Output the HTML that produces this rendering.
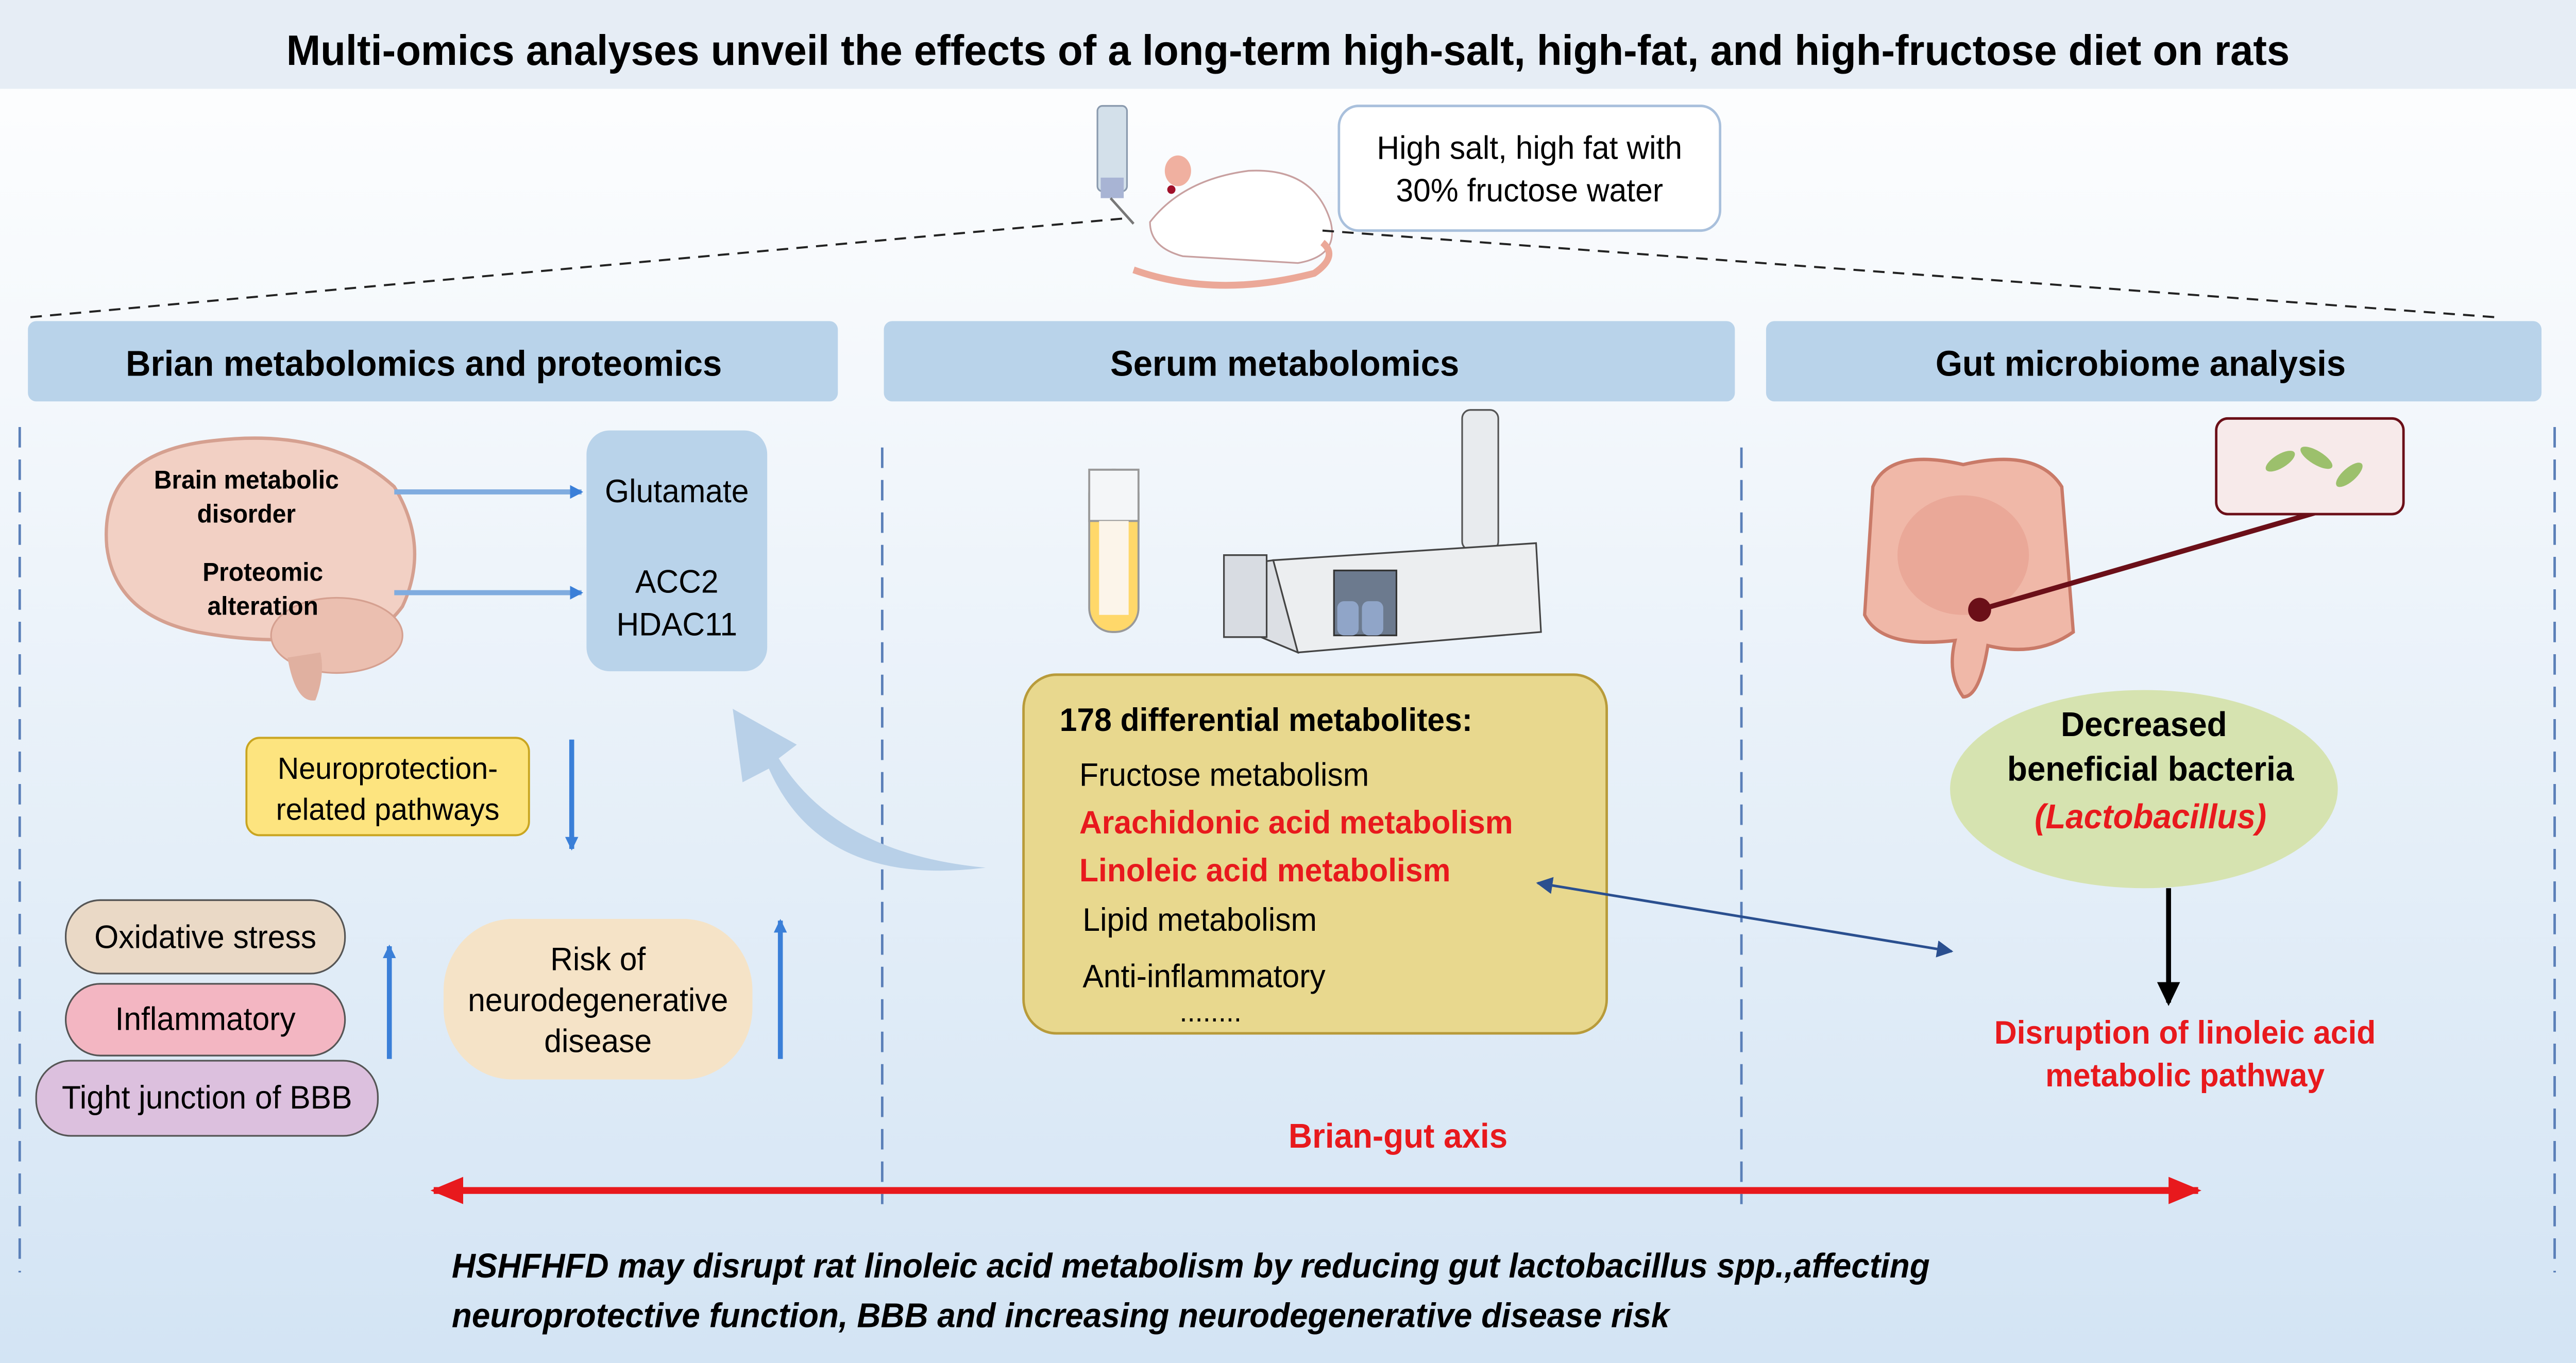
<!DOCTYPE html>
<html><head><meta charset="utf-8"><style>
html,body{margin:0;padding:0;width:100%;height:100%;overflow:hidden;background:#fff}
svg{display:block;width:100vw;height:100vh}
text{font-family:"Liberation Sans",Arial,sans-serif}
</style></head><body>
<svg viewBox="0 0 1568 798" preserveAspectRatio="none" xmlns="http://www.w3.org/2000/svg">
<defs>
<linearGradient id="bg" x1="0" y1="0" x2="0" y2="1">
<stop offset="0" stop-color="#ffffff"/><stop offset="0.35" stop-color="#f1f6fb"/><stop offset="1" stop-color="#d3e4f4"/>
</linearGradient>
<marker id="ab" markerWidth="8" markerHeight="8" refX="7" refY="4" orient="auto" markerUnits="userSpaceOnUse"><path d="M0,0 L8,4 L0,8 z" fill="#3a7fd8"/></marker>
<marker id="ak" markerWidth="14" markerHeight="14" refX="12" refY="7" orient="auto" markerUnits="userSpaceOnUse"><path d="M0,0 L14,7 L0,14 z" fill="#000"/></marker>
<marker id="ar" markerWidth="20" markerHeight="16" refX="18" refY="8" orient="auto-start-reverse" markerUnits="userSpaceOnUse"><path d="M0,0 L20,8 L0,16 z" fill="#e8191d"/></marker>
<marker id="ad" markerWidth="10" markerHeight="10" refX="9" refY="5" orient="auto-start-reverse" markerUnits="userSpaceOnUse"><path d="M0,0 L10,5 L0,10 z" fill="#2a4f8f"/></marker>
</defs>
<rect width="1568" height="798" fill="url(#bg)"/>
<rect x="0" y="0" width="1568" height="52" fill="#e6edf5"/>
<text x="784" y="38" font-size="25" font-weight="bold" text-anchor="middle">Multi-omics analyses unveil the effects of a long-term high-salt, high-fat, and high-fructose diet on rats</text>

<!-- rat -->
<g>
<rect x="668" y="62" width="18" height="50" rx="3" fill="#d3e0ea" stroke="#8a9aae" />
<rect x="670" y="104" width="14" height="12" fill="#a8b4d4"/>
<line x1="676" y1="116" x2="690" y2="131" stroke="#777" stroke-width="1.5"/>
<path d="M700,130 Q720,105 760,100 Q800,98 810,130 Q815,150 790,154 L720,150 Q700,145 700,130 Z" fill="#fff" stroke="#c8a0a0"/>
<ellipse cx="717" cy="100" rx="8" ry="9" fill="#f0b0a0"/>
<circle cx="713" cy="111" r="2.5" fill="#a0102a"/>
<path d="M690,158 Q740,175 800,160 Q815,150 805,142" fill="none" stroke="#eba898" stroke-width="4"/>
</g>
<rect x="815" y="62" width="232" height="73" rx="12" fill="#fff" stroke="#a9c0dc" stroke-width="1.5"/>
<text x="931" y="93" font-size="19" text-anchor="middle">High salt, high fat with</text>
<text x="931" y="118" font-size="19" text-anchor="middle">30% fructose water</text>
<line x1="683" y1="128" x2="15" y2="186" stroke="#222" stroke-width="1.2" stroke-dasharray="7,5"/>
<line x1="805" y1="135" x2="1523" y2="186" stroke="#222" stroke-width="1.2" stroke-dasharray="7,5"/>

<!-- headers -->
<rect x="17" y="188" width="493" height="47" rx="5" fill="#b9d3ea"/>
<text x="258" y="220" font-size="21" font-weight="bold" text-anchor="middle">Brian metabolomics and proteomics</text>
<rect x="538" y="188" width="518" height="47" rx="5" fill="#b9d3ea"/>
<text x="782" y="220" font-size="21" font-weight="bold" text-anchor="middle">Serum metabolomics</text>
<rect x="1075" y="188" width="472" height="47" rx="5" fill="#b9d3ea"/>
<text x="1303" y="220" font-size="21" font-weight="bold" text-anchor="middle">Gut microbiome analysis</text>

<g stroke="#5a7fb8" stroke-width="1.5" stroke-dasharray="12,7">
<line x1="12" y1="250" x2="12" y2="745"/><line x1="1555" y1="250" x2="1555" y2="745"/>
<line x1="537" y1="262" x2="537" y2="705"/><line x1="1060" y1="262" x2="1060" y2="705"/>
</g>

<!-- brain -->
<path d="M65,320 Q60,265 130,258 Q200,250 240,285 Q262,320 245,355 Q230,375 205,372 Q165,378 120,370 Q70,360 65,320 Z" fill="#f2d0c4" stroke="#d5a090" stroke-width="2"/>
<ellipse cx="205" cy="372" rx="40" ry="22" fill="#ebbfb0" stroke="#d5a090"/>
<path d="M175,385 Q180,412 192,410 Q198,395 195,382" fill="#e0b0a0"/>
<text x="150" y="286" font-size="15" font-weight="bold" text-anchor="middle">Brain metabolic</text>
<text x="150" y="306" font-size="15" font-weight="bold" text-anchor="middle">disorder</text>
<text x="160" y="340" font-size="15" font-weight="bold" text-anchor="middle">Proteomic</text>
<text x="160" y="360" font-size="15" font-weight="bold" text-anchor="middle">alteration</text>
<line x1="240" y1="288" x2="354" y2="288" stroke="#80acdf" stroke-width="3" marker-end="url(#ab)"/>
<line x1="240" y1="347" x2="354" y2="347" stroke="#80acdf" stroke-width="3" marker-end="url(#ab)"/>
<rect x="357" y="252" width="110" height="141" rx="14" fill="#b9d3ea"/>
<text x="412" y="294" font-size="19" text-anchor="middle">Glutamate</text>
<text x="412" y="347" font-size="19" text-anchor="middle">ACC2</text>
<text x="412" y="372" font-size="19" text-anchor="middle">HDAC11</text>

<rect x="150" y="432" width="172" height="57" rx="8" fill="#fde47f" stroke="#c9a520" stroke-width="1.2"/>
<text x="236" y="456" font-size="18" text-anchor="middle">Neuroprotection-</text>
<text x="236" y="480" font-size="18" text-anchor="middle">related pathways</text>
<line x1="348" y1="433" x2="348" y2="497" stroke="#3a7fd8" stroke-width="3" marker-end="url(#ab)"/>

<rect x="40" y="527" width="170" height="43" rx="21" fill="#ead9c6" stroke="#555" stroke-width="1"/>
<text x="125" y="555" font-size="19" text-anchor="middle">Oxidative stress</text>
<rect x="40" y="576" width="170" height="42" rx="21" fill="#f3b6c2" stroke="#555" stroke-width="1"/>
<text x="125" y="603" font-size="19" text-anchor="middle">Inflammatory</text>
<rect x="22" y="621" width="208" height="44" rx="21" fill="#dcc0de" stroke="#555" stroke-width="1"/>
<text x="126" y="649" font-size="19" text-anchor="middle">Tight junction of BBB</text>
<line x1="237" y1="620" x2="237" y2="554" stroke="#3a7fd8" stroke-width="3" marker-end="url(#ab)"/>
<rect x="270" y="538" width="188" height="94" rx="42" fill="#f5e3c7"/>
<text x="364" y="568" font-size="19" text-anchor="middle">Risk of</text>
<text x="364" y="592" font-size="19" text-anchor="middle">neurodegenerative</text>
<text x="364" y="616" font-size="19" text-anchor="middle">disease</text>
<line x1="475" y1="620" x2="475" y2="539" stroke="#3a7fd8" stroke-width="3" marker-end="url(#ab)"/>

<!-- curved arrow -->
<path d="M600,508 Q500,520 468,450 L452,458 L446,415 L485,436 L474,444 Q510,500 600,508 Z" fill="#b8d0e8"/>

<!-- test tube & machine -->
<rect x="663" y="275" width="30" height="95" rx="14" fill="#ffd86a" stroke="#999" stroke-width="1.2"/>
<rect x="663" y="275" width="30" height="30" fill="#f4f6f8" stroke="#999" stroke-width="1.2"/>
<rect x="669" y="305" width="18" height="55" fill="#fcf5ea"/>
<rect x="890" y="240" width="22" height="82" rx="5" fill="#e8ebee" stroke="#555"/>
<path d="M775,328 L935,318 L938,370 L790,382 Z" fill="#eceef0" stroke="#444" stroke-width="1"/>
<path d="M760,330 L775,328 L790,382 L760,370 Z" fill="#dcdfe4" stroke="#444"/>
<rect x="745" y="325" width="26" height="48" fill="#d8dce2" stroke="#444"/>
<rect x="812" y="334" width="38" height="38" fill="#6c7a8e" stroke="#333"/>
<rect x="814" y="352" width="13" height="20" rx="4" fill="#90a5c8"/>
<rect x="829" y="352" width="13" height="20" rx="4" fill="#90a5c8"/>

<rect x="623" y="395" width="355" height="210" rx="20" fill="#e8d88e" stroke="#b89b3a" stroke-width="1.5"/>
<text x="645" y="428" font-size="19" font-weight="bold">178 differential metabolites:</text>
<text x="657" y="460" font-size="19">Fructose metabolism</text>
<text x="657" y="488" font-size="19" font-weight="bold" fill="#e8191d">Arachidonic acid metabolism</text>
<text x="657" y="516" font-size="19" font-weight="bold" fill="#e8191d">Linoleic acid metabolism</text>
<text x="659" y="545" font-size="19">Lipid metabolism</text>
<text x="659" y="578" font-size="19">Anti-inflammatory</text>
<text x="718" y="598" font-size="17">........</text>
<line x1="936" y1="517" x2="1188" y2="557" stroke="#2a4f8f" stroke-width="1.5" marker-start="url(#ad)" marker-end="url(#ad)"/>

<!-- intestine -->
<path d="M1140,285 Q1150,262 1195,272 Q1240,262 1255,285 L1262,370 Q1240,385 1210,378 Q1205,408 1195,408 Q1185,395 1190,375 Q1145,380 1135,360 Z" fill="#f0b8a8" stroke="#c97a68" stroke-width="2"/>
<ellipse cx="1195" cy="325" rx="40" ry="35" fill="#eaa898"/>
<circle cx="1205" cy="357" r="7" fill="#6b0f18"/>
<line x1="1205" y1="357" x2="1410" y2="300" stroke="#6b0f18" stroke-width="3"/>
<rect x="1349" y="245" width="114" height="56" rx="7" fill="#f7eaea" stroke="#6b0f18" stroke-width="1.5"/>
<g fill="#9cc06c"><ellipse cx="1388" cy="270" rx="10" ry="4" transform="rotate(-30 1388 270)"/><ellipse cx="1410" cy="268" rx="11" ry="4" transform="rotate(30 1410 268)"/><ellipse cx="1430" cy="278" rx="10" ry="4" transform="rotate(-40 1430 278)"/></g>
<ellipse cx="1305" cy="462" rx="118" ry="58" fill="#d6e3b0"/>
<text x="1305" y="431" font-size="20" font-weight="bold" text-anchor="middle">Decreased</text>
<text x="1309" y="457" font-size="20" font-weight="bold" text-anchor="middle">beneficial bacteria</text>
<text x="1309" y="485" font-size="20" font-weight="bold" font-style="italic" fill="#e8191d" text-anchor="middle">(Lactobacillus)</text>
<line x1="1320" y1="520" x2="1320" y2="587" stroke="#000" stroke-width="3" marker-end="url(#ak)"/>
<text x="1330" y="611" font-size="19" font-weight="bold" fill="#e8191d" text-anchor="middle">Disruption of linoleic acid</text>
<text x="1330" y="636" font-size="19" font-weight="bold" fill="#e8191d" text-anchor="middle">metabolic pathway</text>

<text x="851" y="672" font-size="20" font-weight="bold" fill="#e8191d" text-anchor="middle">Brian-gut axis</text>
<line x1="264" y1="697" x2="1338" y2="697" stroke="#e8191d" stroke-width="4" marker-start="url(#ar)" marker-end="url(#ar)"/>
<text x="275" y="748" font-size="20" font-weight="bold" font-style="italic">HSHFHFD may disrupt rat linoleic acid metabolism by reducing gut lactobacillus spp.,affecting</text>
<text x="275" y="777" font-size="20" font-weight="bold" font-style="italic">neuroprotective function, BBB and increasing neurodegenerative disease risk</text>
</svg>
</body></html>
